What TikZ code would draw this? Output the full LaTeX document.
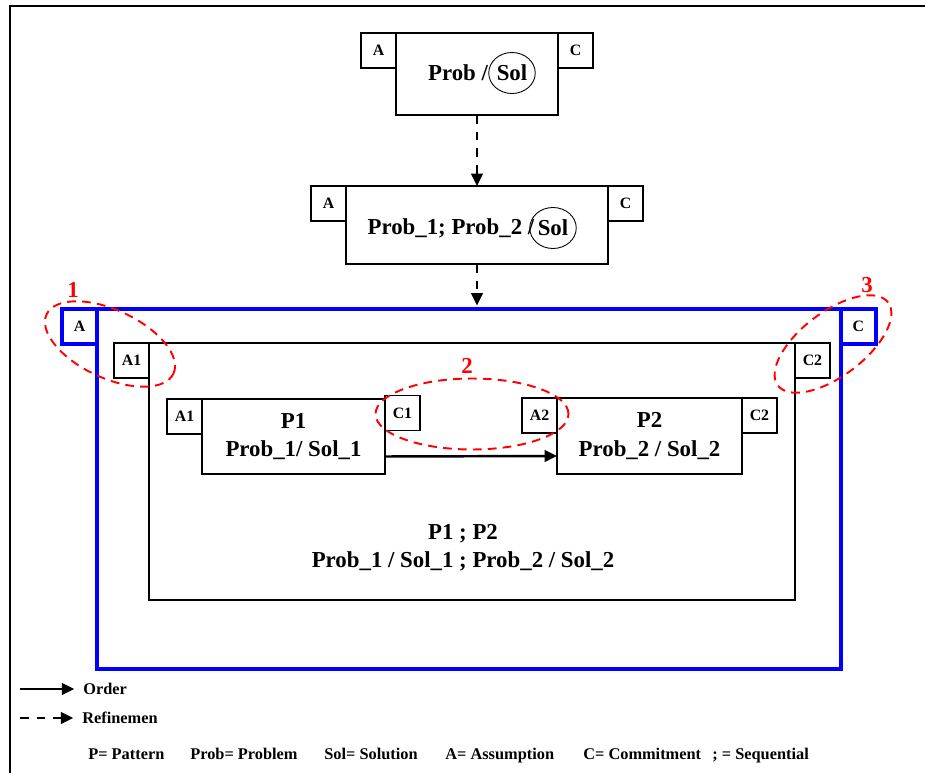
\documentclass[tikz,border=0pt]{standalone}
\usepackage{fontspec}
\setmainfont{Liberation Serif}
\usetikzlibrary{positioning,shapes.geometric,arrows.meta}

\begin{document}
\begin{tikzpicture}[x=0.02cm, y=-0.02cm, >={Triangle[length=7pt,width=6.5pt]}]
  \tikzset{box/.style={draw, line width=0.7pt, outer sep=0pt, inner sep=0pt, align=center, font=\bfseries\fontsize{13}{16}\selectfont},
    lbl/.style={inner sep=0pt, align=center, font=\bfseries\fontsize{13}{16}\selectfont},
    tab/.style={draw, line width=0.7pt, outer sep=0pt, inner sep=0pt, minimum width=0.7cm, minimum height=0.7cm, font=\bfseries\fontsize{9}{10}\selectfont},
    bluetab/.style={tab, draw=blue, line width=2pt},
    solmark/.style={draw, ellipse, line width=0.5pt, inner sep=0pt, minimum width=0.93cm, minimum height=0.82cm, font=\bfseries\fontsize{13}{16}\selectfont},
    hilite/.style={draw=red, ellipse, dash pattern=on 5pt off 3.5pt, line width=1.1pt, inner sep=0pt},
    refine/.style={->, dash pattern=on 5pt off 4.5pt, line width=1.4pt},
    order/.style={->, line width=1.4pt},
    num/.style={text=red, inner sep=0pt, font=\bfseries\fontsize{13}{13}\selectfont},
    legend/.style={anchor=base west, inner sep=0pt, font=\bfseries\fontsize{9.3}{10}\selectfont}}
  \useasboundingbox (0,0) rectangle (925,773);
  \draw[line width=1.3pt] (925,6) -- (10,6) -- (10,773);
  % top pattern
  \node[box, minimum width=3.24cm, minimum height=1.64cm] (top) at (477,74) {};
  \node[tab, anchor=north east] (topA) at (top.north west) {A};
  \node[tab, anchor=north west] (topC) at (top.north east) {C};
  \node[solmark] (topsol) at (512,73) {Sol};
  \node[lbl, anchor=east] (topprob) at (topsol.west) {Prob /};
  % refined pattern
  \node[box, minimum width=5.24cm, minimum height=1.56cm] (mid) at (477,225) {};
  \node[tab, anchor=north east] (midA) at (mid.north west) {A};
  \node[tab, anchor=north west] (midC) at (mid.north east) {C};
  \node[solmark] (midsol) at (553,228) {Sol};
  \node[lbl, anchor=east] (midprob) at ([xshift=3pt]midsol.west) {Prob\_1; Prob\_2 /};
  \draw[refine] (top) -- (mid);
  % composite pattern
  \node[box, draw=blue, line width=2pt, minimum width=14.88cm, minimum height=7.2cm] (seq) at (469,489) {};
  \node[bluetab, anchor=north east] (seqA) at (seq.north west) {A};
  \node[bluetab, anchor=north west] (seqC) at (seq.north east) {C};
  \draw[refine] (mid) -- ([yshift=2pt]mid |- seq.north);
  \node[box, minimum width=12.92cm, minimum height=5.14cm] (comp) at (472,471.5) {};
  \node[tab, anchor=north east] (compA) at (comp.north west) {A1};
  \node[tab, anchor=north west] (compC) at (comp.north east) {C2};
  \node[lbl] (comptxt) at (463,548) {P1 ; P2\\Prob\_1 / Sol\_1 ; Prob\_2 / Sol\_2};
  \node[box, minimum width=3.66cm, minimum height=1.5cm] (p1) at (293.5,436.5) {P1\\Prob\_1/ Sol\_1};
  \node[tab, anchor=north east] (p1A) at (p1.north west) {A1};
  \node[tab, anchor=north west] (p1C) at ([yshift=2pt]p1.north east) {C1};
  \node[box, minimum width=3.7cm, minimum height=1.52cm] (p2) at (649.5,436) {P2\\Prob\_2 / Sol\_2};
  \node[tab, anchor=north east] (p2A) at (p2.north west) {A2};
  \node[tab, anchor=north west] (p2C) at (p2.north east) {C2};
  \draw[order] ([yshift=-0.4cm]p1.east) -- ([yshift=-0.4cm]p2.west);
  % marks
  \node[hilite, minimum width=2.8cm, minimum height=1.36cm, rotate=-25] (mark1) at (110,344) {};
  \node[num] (num1) at (73,290) {1};
  \node[hilite, minimum width=3.86cm, minimum height=1.42cm] (mark2) at (472,414) {};
  \node[num] (num2) at (467,366) {2};
  \node[hilite, minimum width=2.76cm, minimum height=1.28cm, rotate=37] (mark3) at (833,344) {};
  \node[num] (num3) at (867,285) {3};
  % legend
  \coordinate (ordS) at (20,689);
  \node[legend, anchor=west] (ordtxt) at (83,689) {Order};
  \draw[order] (ordS) -- ([xshift=-5pt]ordtxt.west);
  \coordinate (refS) at (20,718);
  \node[legend, anchor=west] (reftxt) at (82,718) {Refinemen};
  \draw[refine] (refS) -- ([xshift=-5pt]reftxt.west);
  \node[legend] (keyP) at (88,759) {P= Pattern};
  \node[legend] (keyProb) at (190,759) {Prob= Problem};
  \node[legend] (keySol) at (324,759) {Sol= Solution};
  \node[legend] (keyA) at (445,759) {A= Assumption};
  \node[legend] (keyC) at (583,759) {C= Commitment};
  \node[legend] (keySeq) at (712,759) {; = Sequential};
\end{tikzpicture}
\end{document}
